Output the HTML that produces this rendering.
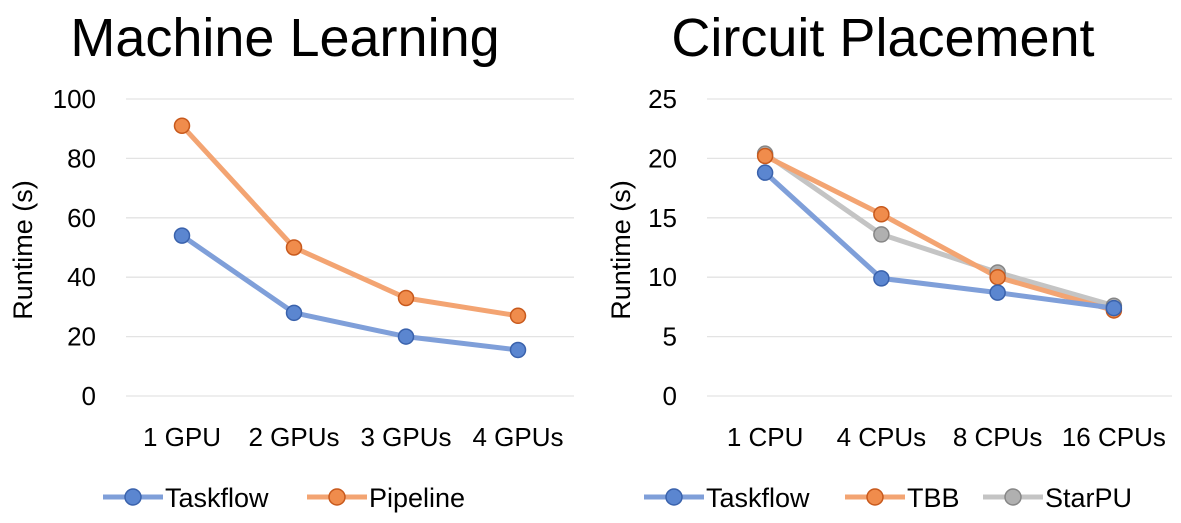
<!DOCTYPE html>
<html><head><meta charset="utf-8"><style>
body{margin:0;background:#fff;font-family:"Liberation Sans",sans-serif}
svg text{font-family:"Liberation Sans",sans-serif;fill:#000}
</style></head><body>
<svg width="1181" height="518" viewBox="0 0 1181 518">
<g id="left"></g>
<g id="right"></g>
</svg>
<script>
const mlCategories=["1 GPU","2 GPUs","3 GPUs","4 GPUs"];
const mlTaskflow=[54,28,20,15.5];
const mlPipeline=[91,50,33,27];
const mlTicks=[0,20,40,60,80,100];
const cpCategories=["1 CPU","4 CPUs","8 CPUs","16 CPUs"];
const cpTaskflow=[18.8,9.9,8.7,7.4];
const cpTBB=[20.2,15.3,10.0,7.2];
const cpStarPU=[20.4,13.6,10.4,7.6];
const cpTicks=[0,5,10,15,20,25];
const NS="http://www.w3.org/2000/svg";
function mk(p,t,a){const e=document.createElementNS(NS,t);for(const k in a)e.setAttribute(k,a[k]);p.appendChild(e);return e;}
const styles={blue:{line:"#7f9fd9",fill:"#5b86d0",stroke:"#3a62ac"},orange:{line:"#f3a472",fill:"#f08c4c",stroke:"#c8591c"},gray:{line:"#c4c4c4",fill:"#b0b0b0",stroke:"#868686"}};
function chart(g,o){
  const y=v=>o.y0-(v-o.min)/(o.max-o.min)*(o.y0-o.y1);
  const bw=(o.x1-o.x0)/o.cats.length;
  const x=i=>o.x0+bw*(i+0.5);
  const t=mk(g,"text",{x:o.tx,y:56,"font-size":54,"text-anchor":"middle"});t.textContent=o.title;
  
  
  o.ticks.forEach(v=>{
    const l=mk(g,"line",{x1:o.x0,x2:o.x1,y1:y(v),y2:y(v),stroke:"#e3e3e3","stroke-width":1.3});
    
    
    const tt=mk(g,"text",{x:o.x0-30,y:y(v)+9,"font-size":26,"text-anchor":"end"});tt.textContent=v;
    
    
  });
  o.cats.forEach((c,i)=>{
    const tt=mk(g,"text",{x:x(i),y:446,"font-size":26,"text-anchor":"middle"});tt.textContent=c;
    
    
  });
  const at=mk(g,"text",{x:0,y:0,"font-size":27,"text-anchor":"middle",transform:`translate(${o.ax},250) rotate(-90)`});at.textContent="Runtime (s)";
  
  
  o.series.forEach(s=>{
    const st=styles[s.c];
    const pl=mk(g,"polyline",{points:s.v.map((v,i)=>x(i)+","+y(v)).join(" "),fill:"none",stroke:st.line,"stroke-width":5,"stroke-linejoin":"round"});
    
    
  });
  o.series.forEach(s=>{
    const st=styles[s.c];
    s.v.forEach((v,i)=>{
      const c=mk(g,"circle",{cx:x(i),cy:y(v),r:7.5,fill:st.fill,stroke:st.stroke,"stroke-width":1.5});
      
      
    });
  });
  o.legend.forEach(L=>{
    const st=styles[L.c];
    const ln=mk(g,"line",{x1:L.x,x2:L.x+60,y1:497,y2:497,stroke:st.line,"stroke-width":5});
    
    
    const c=mk(g,"circle",{cx:L.x+30,cy:497,r:8,fill:st.fill,stroke:st.stroke,"stroke-width":1.5});
    
    
    const tt=mk(g,"text",{x:L.x+62,y:507,"font-size":27});tt.textContent=L.n;
    
    
  });
}
chart(document.getElementById("left"),{title:"Machine Learning",tx:285,x0:126,x1:574,y0:396,y1:99,min:0,max:100,ticks:mlTicks,cats:mlCategories,ax:32,
 series:[{v:mlTaskflow,c:"blue"},{v:mlPipeline,c:"orange"}],
 legend:[{x:103,n:"Taskflow",c:"blue"},{x:307,n:"Pipeline",c:"orange"}]});
chart(document.getElementById("right"),{title:"Circuit Placement",tx:883,x0:707,x1:1172,y0:396,y1:99,min:0,max:25,ticks:cpTicks,cats:cpCategories,ax:630,
 series:[{v:cpStarPU,c:"gray"},{v:cpTBB,c:"orange"},{v:cpTaskflow,c:"blue"}],
 legend:[{x:644,n:"Taskflow",c:"blue"},{x:845,n:"TBB",c:"orange"},{x:983,n:"StarPU",c:"gray"}]});
</script>
</body></html>
